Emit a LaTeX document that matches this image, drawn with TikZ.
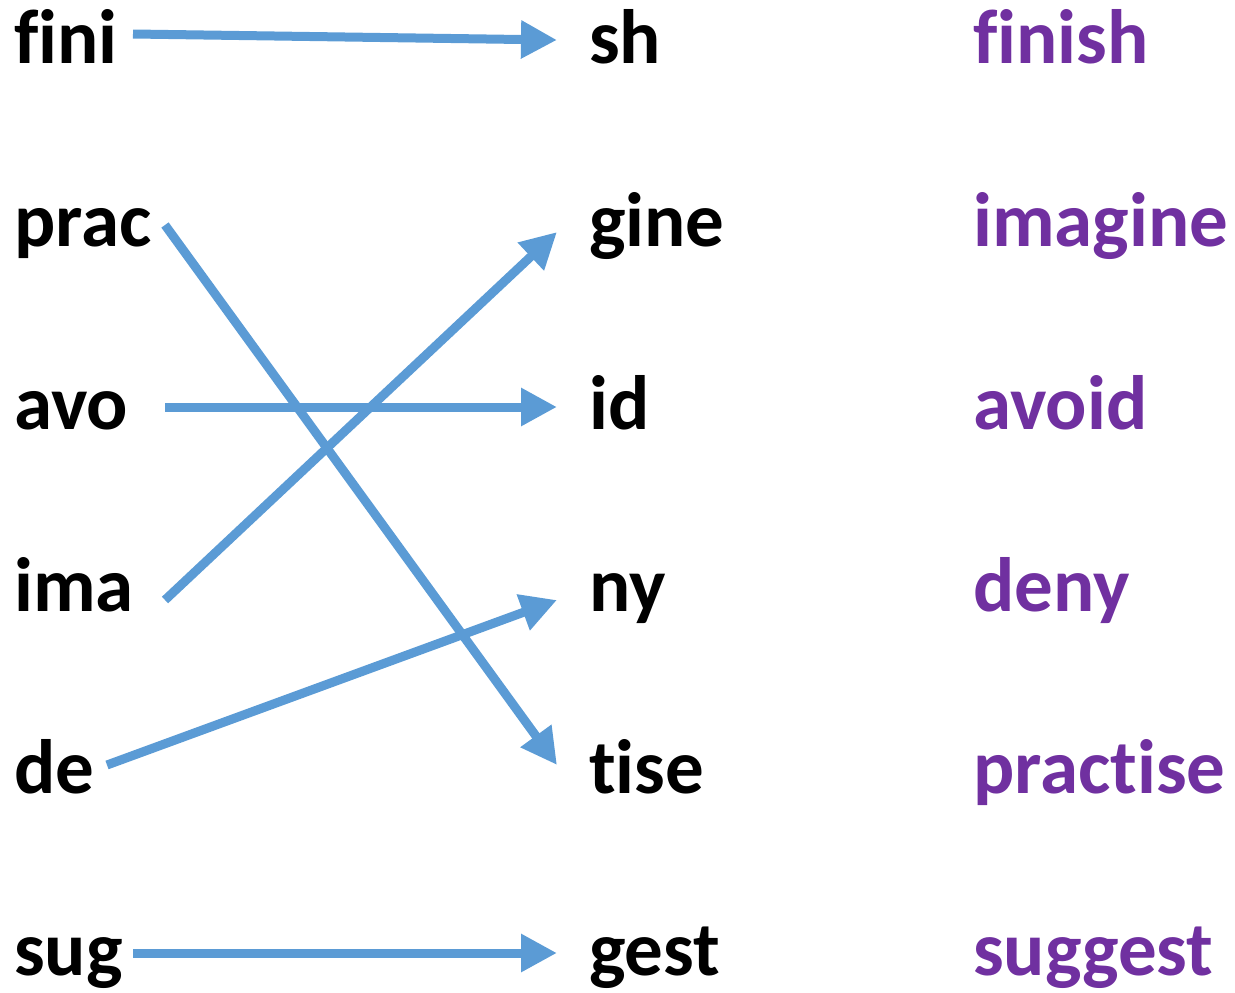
\documentclass[tikz,border=0pt]{standalone}
\usepackage{fontspec}
\setmainfont{Carlito}[Ligatures=NoCommon]
\usetikzlibrary{arrows.meta}
\definecolor{linkblue}{HTML}{5B9BD5}
\definecolor{wordpurple}{HTML}{7030A0}

\begin{document}
\begin{tikzpicture}
[x=1pt,y=-1pt,every node/.style={anchor=base west,inner sep=0pt,font=\fontsize{77}{84}\selectfont\bfseries},
 link/.style={draw=linkblue,line width=9pt,-{Triangle[length=36pt,width=36pt]}},
 whole/.style={text=wordpurple}]

\useasboundingbox (0,0) rectangle (1235,993);

% first halves
\node (l1) at (14,63) {fini};
\node (l2) at (14,246) {prac};
\node (l3) at (14,429) {avo};
\node (l4) at (14,611) {ima};
\node (l5) at (14,793) {de};
\node (l6) at (14,975) {sug};

% second halves
\node (m1) at (589,63) {sh};
\node (m2) at (589,246) {gine};
\node (m3) at (589,429) {id};
\node (m4) at (589,611) {ny};
\node (m5) at (589,793) {tise};
\node (m6) at (589,975) {gest};

% whole words
\node[whole] (w1) at (973,63) {finish};
\node[whole] (w2) at (973,246) {imagine};
\node[whole] (w3) at (973,429) {avoid};
\node[whole] (w4) at (973,611) {deny};
\node[whole] (w5) at (973,793) {practise};
\node[whole] (w6) at (973,975) {suggest};

% arrow ends
\coordinate (s1) at (133,34);
\coordinate (s2) at (165,225);
\coordinate (s3) at (165,407);
\coordinate (s4) at (165,600);
\coordinate (s5) at (107,765);
\coordinate (s6) at (133,953);

\coordinate (t1) at (557,40);
\coordinate (t2) at (557,232);
\coordinate (t3) at (557,407);
\coordinate (t4) at (557,600);
\coordinate (t5) at (557,765);
\coordinate (t6) at (557,953);

\draw[link] (s1) -- (t1);
\draw[link] (s2) -- (t5);
\draw[link] (s3) -- (t3);
\draw[link] (s4) -- (t2);
\draw[link] (s5) -- (t4);
\draw[link] (s6) -- (t6);

\end{tikzpicture}
\end{document}
